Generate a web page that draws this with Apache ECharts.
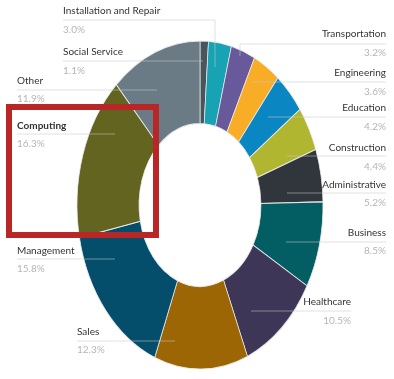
<!DOCTYPE html>
<html>
<head>
<meta charset="utf-8">
<script src="https://cdn.jsdelivr.net/npm/echarts@6/dist/echarts.min.js"></script>
<style>
html,body{margin:0;padding:0;background:#fff;}
#chart{width:394px;height:379px;}
</style>
</head>
<body>
<div id="chart"></div>
<script>
// ---- data ----
const categories = ['Social Service','Installation and Repair','Transportation','Engineering','Education','Construction','Administrative','Business','Healthcare','Sales','Management','Computing','Other'];
const values = [1.1, 3.0, 3.2, 3.6, 4.2, 4.4, 5.2, 8.5, 10.5, 12.3, 15.8, 16.3, 11.9];
const valueLabels = ['1.1%','3.0%','3.2%','3.6%','4.2%','4.4%','5.2%','8.5%','10.5%','12.3%','15.8%','16.3%','11.9%'];

// ---- styles / layout ----
const colors = ['#49545b','#17a3b3','#68599a','#f9ad27','#0a87c3','#b1b630','#30363b','#035e63','#3d3656','#9b6603','#044e6c','#646421','#6b7b85'];
// label layout: [textX, nameY, valueY, align, lineStartX, lineEndX, underlineY, vertEndY]
const labelLayout = [
  [63, 52, 71, 'left', 63, 203, 61, null],
  [63, 11, 30, 'left', 63, 215, 20, 67],
  [386, 34, 53, 'right', 240, 386, 44, 56],
  [386, 73, 92, 'right', 252, 386, 82, null],
  [386, 108, 127, 'right', 268, 386, 117, null],
  [386, 148, 167, 'right', 287, 386, 156, null],
  [386, 185, 203, 'right', 287, 386, 193, null],
  [386, 233, 251, 'right', 286, 386, 242, null],
  [351, 302, 321, 'right', 251, 351, 311, null],
  [77, 332, 350, 'left', 77, 175, 341, null],
  [17, 251, 269, 'left', 17, 115, 259, null],
  [17, 126, 144, 'left', 17, 115, 134, null],
  [17, 81, 99, 'left', 17, 157, 90, null]
];
const boldIndex = 11;

const total = values.reduce((a, b) => a + b, 0);
const starts = [];
values.reduce((acc, v) => { starts.push(acc); return acc + v; }, 0);

const CX = 200, CY = 205, R = 123, R0 = 61, SY = 1.334;
const FONT = 'Lato, "Open Sans", sans-serif';

const graphics = [];
categories.forEach((name, i) => {
  const L = labelLayout[i];
  const pts = L[7] != null
    ? (L[3] === 'left' ? [[L[4], L[6]], [L[5], L[6]], [L[5], L[7]]] : [[L[5], L[6]], [L[4], L[6]], [L[4], L[7]]])
    : [[L[4], L[6]], [L[5], L[6]]];
  graphics.push({
    type: 'polyline', z: 10, silent: true,
    shape: { points: pts },
    style: { stroke: 'rgba(200,200,200,0.55)', lineWidth: 1, fill: null }
  });
  graphics.push({
    type: 'text', z: 11, silent: true,
    style: {
      text: name, x: L[0], y: L[1],
      textAlign: L[3], align: L[3], textVerticalAlign: 'middle', verticalAlign: 'middle',
      fill: '#333', font: (i === boldIndex ? 'bold ' : '') + '10px ' + FONT
    }
  });
  graphics.push({
    type: 'text', z: 11, silent: true,
    style: {
      text: valueLabels[i], x: L[0], y: L[2],
      textAlign: L[3], align: L[3], textVerticalAlign: 'middle', verticalAlign: 'middle',
      fill: '#b5b5b5', font: '10px ' + FONT
    }
  });
});
// highlight box
graphics.push({
  type: 'rect', z: 20, silent: true,
  shape: { x: 9, y: 107, width: 147, height: 128 },
  style: { fill: null, stroke: '#b82626', lineWidth: 6 }
});

const chart = echarts.init(document.getElementById('chart'), null, { renderer: 'canvas' });
chart.setOption({
  animation: false,
  backgroundColor: '#fff',
  series: [{
    type: 'custom',
    coordinateSystem: 'none',
    data: values.map((v, i) => ({ name: categories[i], value: [v, starts[i]] })),
    renderItem: function (params, api) {
      const v = api.value(0), s = api.value(1);
      const a0 = -Math.PI / 2 + 2 * Math.PI * s / total;
      const a1 = a0 + 2 * Math.PI * v / total;
      return {
        type: 'sector',
        shape: { cx: CX, cy: CY, r: R, r0: R0, startAngle: a0, endAngle: a1, clockwise: true },
        originX: CX, originY: CY, scaleY: SY,
        style: { fill: colors[params.dataIndex], stroke: 'rgba(235,235,235,0.9)', lineWidth: 0.8 }
      };
    }
  }],
  graphic: { elements: graphics }
});
</script>
</body>
</html>
